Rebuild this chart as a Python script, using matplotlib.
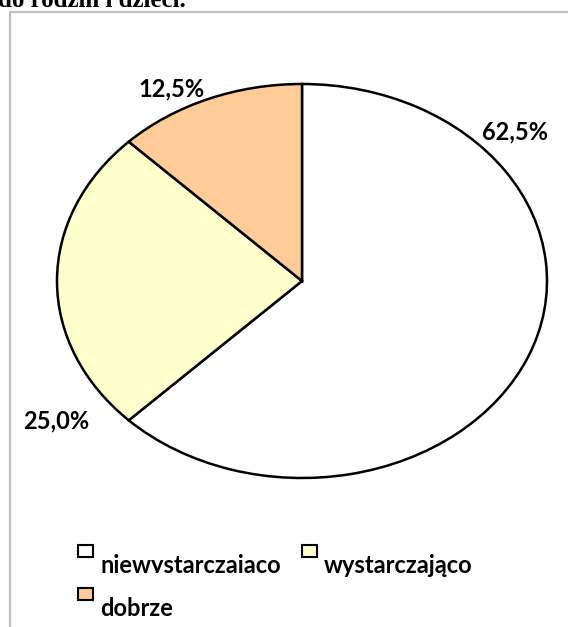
import matplotlib
matplotlib.use("Agg")
import matplotlib.pyplot as plt
from matplotlib.patches import Rectangle
from matplotlib.lines import Line2D

# --- data ---
categories = ["niewystarczajaco", "wystarczająco", "dobrze"]
shares     = [62.5, 25.0, 12.5]
pct_labels = ["62,5%", "25,0%", "12,5%"]
colors     = ["#FFFFFF", "#FFFFCC", "#FFCC99"]

W, H, DPI = 568, 627, 100
fig = plt.figure(figsize=(W / DPI, H / DPI), dpi=DPI)

def fx(px): return px / W
def fy(py): return 1 - py / H

# cut-off heading from the page above
fig.text(fx(-2), fy(7), "do rodzin i dzieci.", family="Liberation Serif",
         fontweight="bold", fontsize=18, va="baseline", ha="left")

# chart frame (only top and left edges show)
fig.add_artist(Line2D([fx(10), fx(10), fx(570)], [fy(630), fy(12), fy(12)],
                      transform=fig.transFigure, color="#C0C0C0", lw=1.6))

# pie drawn as unit circle, stretched into an ellipse by the axes box
cx, cy, rx, ry = 302, 281, 245, 197
ax = fig.add_axes([fx(cx - rx), fy(cy + ry), 2 * rx / W, 2 * ry / H])
ax.pie(shares, colors=colors, startangle=90, counterclock=False,
       wedgeprops=dict(edgecolor="black", linewidth=1.8))
ax.set_aspect("auto")
ax.set_xlim(-1, 1); ax.set_ylim(-1, 1)
ax.axis("off")

label_pos = [(0.869, 0.756), (-1.005, -0.71), (-0.531, 0.975)]
for txt, (x, y) in zip(pct_labels, label_pos):
    ax.text(x, y, txt, ha="center", va="center", family="Lato",
            fontweight="bold", fontsize=17, clip_on=False)

# legend, built by hand (text sits below the swatch like the original)
swatch_xy = [(78, 545), (302, 545), (78, 588)]
for name, col, (sx, sy) in zip(categories, colors, swatch_xy):
    fig.add_artist(Rectangle((fx(sx), fy(sy + 12)), 15 / W, 12 / H,
                             transform=fig.transFigure, facecolor=col,
                             edgecolor="black", lw=1.5))
    t = fig.text(fx(sx + 22), fy(sy + 28), name, family="Lato",
                 fontweight="bold", fontsize=17, va="baseline", ha="left")
    if name == categories[0]:
        # first legend entry is cut off at the baseline in the original
        t.set_clip_path(Rectangle((0, fy(573)), 1, 1,
                                  transform=fig.transFigure))

fig.savefig("out.png", dpi=DPI)
